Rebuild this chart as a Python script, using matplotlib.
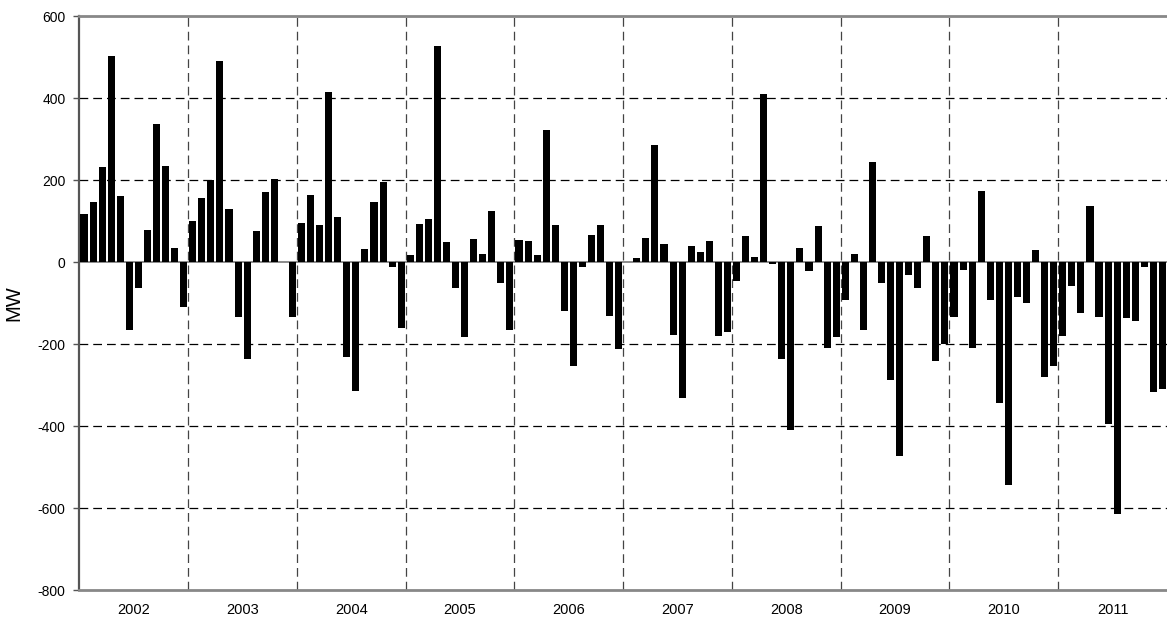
import matplotlib
matplotlib.use("Agg")
import matplotlib.pyplot as plt
import numpy as np

plt.rcParams['font.family'] = ['Liberation Sans', 'DejaVu Sans']

years = [2002, 2003, 2004, 2005, 2006, 2007, 2008, 2009, 2010, 2011]
v2002 = [117, 148, 233, 502, 162, -164, -62, 80, 337, 235, 35, -109]
v2003 = [101, 156, 200, 492, 129, -134, -237, 76, 171, 203, 0, -134]
v2004 = [97, 165, 91, 415, 110, -231, -315, 32, 148, 195, -12, -160]
v2005 = [17, 94, 105, 528, 50, -62, -181, 57, 20, 125, -51, -165]
v2006 = [55, 51, 17, 323, 90, -118, -254, -11, 67, 90, -130, -211]
v2007 = [0, 10, 60, 285, 45, -178, -331, 39, 25, 51, -180, -170]
v2008 = [-46, 63, 12, 411, -4, -237, -409, 34, -22, 89, -208, -182]
v2009 = [-92, 21, -166, 245, -50, -288, -473, -30, -62, 65, -241, -200]
v2010 = [-133, -19, -209, 174, -92, -342, -542, -84, -100, 30, -279, -253]
v2011 = [-180, -57, -123, 137, -134, -395, -614, -137, -143, -12, -317, -308]
yticks = [-800, -600, -400, -200, 0, 200, 400, 600]
ylabel = "MW"

values = v2002 + v2003 + v2004 + v2005 + v2006 + v2007 + v2008 + v2009 + v2010 + v2011
n = len(values)
x = np.arange(n)

fig = plt.figure(figsize=(11.67, 6.18), dpi=100)
ax = fig.add_axes([0.0681, 0.0448, 0.9319, 0.9288])

# grid lines
for t in yticks:
    if t in (yticks[0], yticks[-1], 0):
        continue
    ax.axhline(t, color='black', lw=0.9, ls=(0, (7, 4)), zorder=1)
for k in range(1, len(years)):
    ax.axvline(12 * k - 0.5, color='#444444', lw=0.9, ls=(0, (7, 4)), zorder=1)
ax.axhline(0, color='#777777', lw=1.2, zorder=1)

ax.bar(x, values, width=0.78, color='black', edgecolor='none', zorder=3)

ax.set_xlim(-0.5, n - 0.5)
ax.set_ylim(yticks[0], yticks[-1])
ax.set_yticks(yticks)
ax.set_yticklabels([str(t) for t in yticks], fontsize=10)
ax.set_xticks([12 * k + 5.5 for k in range(len(years))])
ax.set_xticklabels([str(y) for y in years], fontsize=10.5)
ax.tick_params(axis='x', length=0, pad=9)
ax.tick_params(axis='y', length=4, width=1, color='#555555', direction='out', pad=6)
ax.set_ylabel(ylabel, fontsize=14.5, labelpad=10)

ax.spines['left'].set_color('#555555')
ax.spines['left'].set_linewidth(1.6)
ax.spines['top'].set_color('#888888')
ax.spines['top'].set_linewidth(2)
ax.spines['bottom'].set_color('#888888')
ax.spines['bottom'].set_linewidth(2)
ax.spines['right'].set_visible(False)

fig.savefig("out.png", dpi=100)
